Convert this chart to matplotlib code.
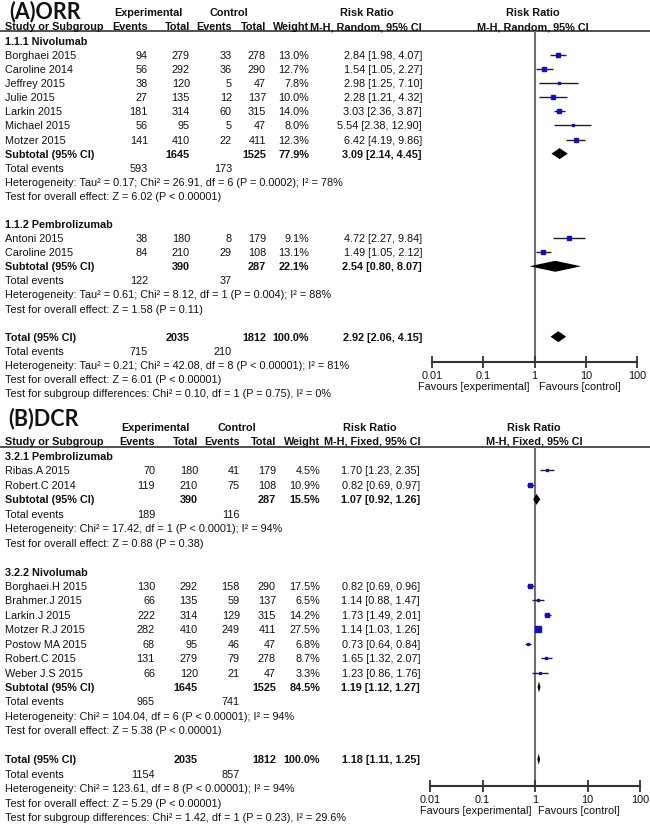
import matplotlib
matplotlib.use('Agg')
import matplotlib.pyplot as plt
import numpy as np
from matplotlib.ticker import FixedLocator, FixedFormatter, NullLocator

# ---------------- DATA: panel A (ORR) ----------------
A_title = '(A)ORR'
A_method = 'M-H, Random, 95% CI'
A_study = ['Borghaei 2015', 'Caroline 2014', 'Jeffrey 2015', 'Julie 2015', 'Larkin 2015',
           'Michael 2015', 'Motzer 2015', 'Antoni 2015', 'Caroline 2015']
A_group = [0, 0, 0, 0, 0, 0, 0, 1, 1]
A_exp_events = [94, 56, 38, 27, 181, 56, 141, 38, 84]
A_exp_total = [279, 292, 120, 135, 314, 95, 410, 180, 210]
A_ctl_events = [33, 36, 5, 12, 60, 5, 22, 8, 29]
A_ctl_total = [278, 290, 47, 137, 315, 47, 411, 179, 108]
A_weight = [13.0, 12.7, 7.8, 10.0, 14.0, 8.0, 12.3, 9.1, 13.1]
A_rr = [2.84, 1.54, 2.98, 2.28, 3.03, 5.54, 6.42, 4.72, 1.49]
A_lo = [1.98, 1.05, 1.25, 1.21, 2.36, 2.38, 4.19, 2.27, 1.05]
A_hi = [4.07, 2.27, 7.10, 4.32, 3.87, 12.90, 9.86, 9.84, 2.12]
A_sub_name = ['1.1.1 Nivolumab', '1.1.2 Pembrolizumab']
A_sub_exp_total = [1645, 390]
A_sub_ctl_total = [1525, 287]
A_sub_weight = [77.9, 22.1]
A_sub_rr = [3.09, 2.54]
A_sub_lo = [2.14, 0.80]
A_sub_hi = [4.45, 8.07]
A_sub_exp_events = [593, 122]
A_sub_ctl_events = [173, 37]
A_sub_het = ['Heterogeneity: Tau\u00b2 = 0.17; Chi\u00b2 = 26.91, df = 6 (P = 0.0002); I\u00b2 = 78%',
             'Heterogeneity: Tau\u00b2 = 0.61; Chi\u00b2 = 8.12, df = 1 (P = 0.004); I\u00b2 = 88%']
A_sub_test = ['Test for overall effect: Z = 6.02 (P < 0.00001)',
              'Test for overall effect: Z = 1.58 (P = 0.11)']
A_tot = [2035, 1812, 100.0, 2.92, 2.06, 4.15]
A_tot_events = [715, 210]
A_tot_het = 'Heterogeneity: Tau\u00b2 = 0.21; Chi\u00b2 = 42.08, df = 8 (P < 0.00001); I\u00b2 = 81%'
A_tot_test = 'Test for overall effect: Z = 6.01 (P < 0.00001)'
A_diff = 'Test for subgroup differences: Chi\u00b2 = 0.10, df = 1 (P = 0.75), I\u00b2 = 0%'

# ---------------- DATA: panel B (DCR) ----------------
B_title = '(B)DCR'
B_method = 'M-H, Fixed, 95% CI'
B_study = ['Ribas.A 2015', 'Robert.C 2014', 'Borghaei.H 2015', 'Brahmer.J 2015', 'Larkin.J 2015',
           'Motzer R.J 2015', 'Postow MA 2015', 'Robert.C 2015', 'Weber J.S 2015']
B_group = [0, 0, 1, 1, 1, 1, 1, 1, 1]
B_exp_events = [70, 119, 130, 66, 222, 282, 68, 131, 66]
B_exp_total = [180, 210, 292, 135, 314, 410, 95, 279, 120]
B_ctl_events = [41, 75, 158, 59, 129, 249, 46, 79, 21]
B_ctl_total = [179, 108, 290, 137, 315, 411, 47, 278, 47]
B_weight = [4.5, 10.9, 17.5, 6.5, 14.2, 27.5, 6.8, 8.7, 3.3]
B_rr = [1.70, 0.82, 0.82, 1.14, 1.73, 1.14, 0.73, 1.65, 1.23]
B_lo = [1.23, 0.69, 0.69, 0.88, 1.49, 1.03, 0.64, 1.32, 0.86]
B_hi = [2.35, 0.97, 0.96, 1.47, 2.01, 1.26, 0.84, 2.07, 1.76]
B_sub_name = ['3.2.1 Pembrolizumab', '3.2.2 Nivolumab']
B_sub_exp_total = [390, 1645]
B_sub_ctl_total = [287, 1525]
B_sub_weight = [15.5, 84.5]
B_sub_rr = [1.07, 1.19]
B_sub_lo = [0.92, 1.12]
B_sub_hi = [1.26, 1.27]
B_sub_exp_events = [189, 965]
B_sub_ctl_events = [116, 741]
B_sub_het = ['Heterogeneity: Chi\u00b2 = 17.42, df = 1 (P < 0.0001); I\u00b2 = 94%',
             'Heterogeneity: Chi\u00b2 = 104.04, df = 6 (P < 0.00001); I\u00b2 = 94%']
B_sub_test = ['Test for overall effect: Z = 0.88 (P = 0.38)',
              'Test for overall effect: Z = 5.38 (P < 0.00001)']
B_tot = [2035, 1812, 100.0, 1.18, 1.11, 1.25]
B_tot_events = [1154, 857]
B_tot_het = 'Heterogeneity: Chi\u00b2 = 123.61, df = 8 (P < 0.00001); I\u00b2 = 94%'
B_tot_test = 'Test for overall effect: Z = 5.29 (P < 0.00001)'
B_diff = 'Test for subgroup differences: Chi\u00b2 = 1.42, df = 1 (P = 0.23), I\u00b2 = 29.6%'

tick_values = [0.01, 0.1, 1, 10, 100]
tick_labels = ['0.01', '0.1', '1', '10', '100']

# ---------------- STYLE / LAYOUT ----------------
W, H = 650, 837
FONT = 'Liberation Sans'
TFONT = 'Lato'
FS = 7.8
TXT = '#111111'
SQ = '#1010c0'

fig = plt.figure(figsize=(6.5, 8.37), dpi=100)
base = fig.add_axes([0, 0, 1, 1])
base.set_xlim(0, W)
base.set_ylim(H, 0)
base.axis('off')


def t(x, y, s, ha='left', bold=False, size=FS, family=FONT):
    base.text(x, y, s, ha=ha, va='center', fontsize=size, color=TXT,
              fontweight='bold' if bold else 'normal', family=family)


def panel(d, L):
    # title and headers
    t(L['title_x'], L['title_y'], d['title'], bold=True, size=15.5, family=TFONT)
    t(L['exp_c'], L['h1'], 'Experimental', ha='center', bold=True)
    t(L['ctl_c'], L['h1'], 'Control', ha='center', bold=True)
    t(L['rrh_c'], L['h1'], 'Risk Ratio', ha='center', bold=True)
    t(L['plot_c'], L['h1'], 'Risk Ratio', ha='center', bold=True)
    t(5, L['h2'], 'Study or Subgroup', bold=True)
    for x, s in zip(L['cols'], ['Events', 'Total', 'Events', 'Total', 'Weight']):
        t(x, L['h2'], s, ha='right', bold=True)
    t(L['rr_r'], L['h2'], d['method'], ha='right', bold=True)
    t(L['plot_c'], L['h2'], d['method'], ha='center', bold=True)
    base.plot([0, W], [L['line'], L['line']], color='#333333', lw=1.2)

    # forest axes
    x0, x1 = L['px']
    fa = fig.add_axes([x0 / W, 1 - L['axis'] / H, (x1 - x0) / W, (L['axis'] - L['line']) / H])
    fa.set_xscale('log')
    fa.set_xlim(0.01, 100)
    fa.set_ylim(L['axis'], L['line'])
    fa.patch.set_alpha(0)
    for sp in ['top', 'left', 'right']:
        fa.spines[sp].set_visible(False)
    fa.spines['bottom'].set_color('#333333')
    fa.spines['bottom'].set_linewidth(1.5)
    fa.yaxis.set_visible(False)
    fa.xaxis.set_major_locator(FixedLocator(tick_values))
    fa.xaxis.set_major_formatter(FixedFormatter(tick_labels))
    fa.xaxis.set_minor_locator(NullLocator())
    fa.tick_params(axis='x', direction='inout', length=8, width=1.3, color='#333333',
                   pad=1.5, labelsize=FS, labelcolor=TXT)
    for lab in fa.get_xticklabels():
        lab.set_family(FONT)
    fa.axvline(1, color='#707070', lw=1.5, zorder=1)

    def row(i):
        return L['row0'] + i * L['dy']

    def diamond(y, rr, lo, hi):
        h = 5.5
        fa.fill([lo, rr, hi, rr], [y, y - h, y, y + h], color='black', zorder=3, lw=0)

    r = 0
    for g in range(2):
        t(5, row(r), d['sub_name'][g], bold=True)
        r += 1
        for i in [k for k in range(len(d['study'])) if d['group'][k] == g]:
            y = row(r)
            t(5, y, d['study'][i])
            vals = [d['ee'][i], d['et'][i], d['ce'][i], d['ct'][i]]
            for x, v in zip(L['cols'][:4], vals):
                t(x, y, str(v), ha='right')
            t(L['cols'][4], y, '%.1f%%' % d['w'][i], ha='right')
            t(L['rr_r'], y, '%.2f [%.2f, %.2f]' % (d['rr'][i], d['lo'][i], d['hi'][i]), ha='right')
            fa.hlines(y, d['lo'][i], d['hi'][i], color='#202020', lw=1.0, zorder=2)
            fa.plot(d['rr'][i], y, marker='s', ms=0.72 * 1.0 * np.sqrt(d['w'][i]),
                    color=SQ, mec=SQ, zorder=4, ls='none')
            r += 1
        y = row(r)
        t(5, y, 'Subtotal (95% CI)', bold=True)
        t(L['cols'][1], y, str(d['sub_et'][g]), ha='right', bold=True)
        t(L['cols'][3], y, str(d['sub_ct'][g]), ha='right', bold=True)
        t(L['cols'][4], y, '%.1f%%' % d['sub_w'][g], ha='right', bold=True)
        t(L['rr_r'], y, '%.2f [%.2f, %.2f]' % (d['sub_rr'][g], d['sub_lo'][g], d['sub_hi'][g]),
          ha='right', bold=True)
        diamond(y, d['sub_rr'][g], d['sub_lo'][g], d['sub_hi'][g])
        r += 1
        y = row(r)
        t(5, y, 'Total events')
        t(L['cols'][0], y, str(d['sub_ee'][g]), ha='right')
        t(L['cols'][2], y, str(d['sub_ce'][g]), ha='right')
        r += 1
        t(5, row(r), d['sub_het'][g])
        r += 1
        t(5, row(r), d['sub_test'][g])
        r += 2
    y = row(r)
    tot = d['tot']
    t(5, y, 'Total (95% CI)', bold=True)
    t(L['cols'][1], y, str(tot[0]), ha='right', bold=True)
    t(L['cols'][3], y, str(tot[1]), ha='right', bold=True)
    t(L['cols'][4], y, '%.1f%%' % tot[2], ha='right', bold=True)
    t(L['rr_r'], y, '%.2f [%.2f, %.2f]' % (tot[3], tot[4], tot[5]), ha='right', bold=True)
    diamond(y, tot[3], tot[4], tot[5])
    r += 1
    y = row(r)
    t(5, y, 'Total events')
    t(L['cols'][0], y, str(d['tot_events'][0]), ha='right')
    t(L['cols'][2], y, str(d['tot_events'][1]), ha='right')
    r += 1
    t(5, row(r), d['tot_het'])
    r += 1
    t(5, row(r), d['tot_test'])
    r += 1
    t(5, row(r), d['diff'])

    t(L['fav_l'], L['fav_y'], 'Favours [experimental]', ha='right')
    t(L['fav_r'], L['fav_y'], 'Favours [control]', ha='left')


A = dict(title=A_title, method=A_method, study=A_study, group=A_group, ee=A_exp_events,
         et=A_exp_total, ce=A_ctl_events, ct=A_ctl_total, w=A_weight, rr=A_rr, lo=A_lo, hi=A_hi,
         sub_name=A_sub_name, sub_et=A_sub_exp_total, sub_ct=A_sub_ctl_total, sub_w=A_sub_weight,
         sub_rr=A_sub_rr, sub_lo=A_sub_lo, sub_hi=A_sub_hi, sub_ee=A_sub_exp_events,
         sub_ce=A_sub_ctl_events, sub_het=A_sub_het, sub_test=A_sub_test, tot=A_tot,
         tot_events=A_tot_events, tot_het=A_tot_het, tot_test=A_tot_test, diff=A_diff)
B = dict(title=B_title, method=B_method, study=B_study, group=B_group, ee=B_exp_events,
         et=B_exp_total, ce=B_ctl_events, ct=B_ctl_total, w=B_weight, rr=B_rr, lo=B_lo, hi=B_hi,
         sub_name=B_sub_name, sub_et=B_sub_exp_total, sub_ct=B_sub_ctl_total, sub_w=B_sub_weight,
         sub_rr=B_sub_rr, sub_lo=B_sub_lo, sub_hi=B_sub_hi, sub_ee=B_sub_exp_events,
         sub_ce=B_sub_ctl_events, sub_het=B_sub_het, sub_test=B_sub_test, tot=B_tot,
         tot_events=B_tot_events, tot_het=B_tot_het, tot_test=B_tot_test, diff=B_diff)

LA = dict(title_x=9, title_y=12, h1=13, h2=27, line=32, row0=42, dy=14.08, axis=363,
          cols=[148, 190, 232, 266, 309], rr_r=422, exp_c=148, ctl_c=229, rrh_c=367,
          px=(432, 637), plot_c=533, fav_l=530, fav_r=539, fav_y=387)
LB = dict(title_x=8, title_y=419, h1=428, h2=442, line=448, row0=457, dy=14.44, axis=787,
          cols=[155, 198, 240, 276, 320], rr_r=420, exp_c=155, ctl_c=237, rrh_c=370,
          px=(430, 640), plot_c=534, fav_l=531, fav_r=538, fav_y=811)

panel(A, LA)
panel(B, LB)

fig.savefig('out.png', dpi=100)
